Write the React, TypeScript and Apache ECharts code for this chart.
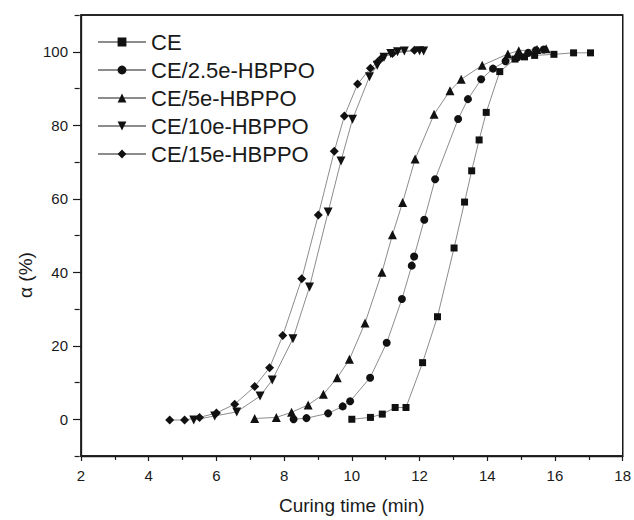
import React, { useEffect, useRef } from "react";
import * as echarts from "echarts";

const xTicks = [2, 4, 6, 8, 10, 12, 14, 16, 18];
const yTicks = [0, 20, 40, 60, 80, 100];

const seriesNames = ["CE", "CE/2.5e-HBPPO", "CE/5e-HBPPO", "CE/10e-HBPPO", "CE/15e-HBPPO"];

const ceData = [
  [10.0, 0], [10.55, 0.5], [10.9, 1.4], [11.28, 3.2], [11.6, 3.2], [12.09, 15.4],
  [12.53, 27.9], [13.02, 46.6], [13.33, 59.1], [13.54, 67.6], [13.76, 76.0],
  [13.97, 83.5], [14.37, 94.6], [14.82, 98.0], [15.1, 98.6], [15.4, 99.0],
  [15.97, 99.3], [16.55, 99.7], [17.05, 99.7],
];
const ce25Data = [
  [8.28, 0], [8.66, 0.3], [9.3, 1.6], [9.73, 3.5], [9.95, 4.9], [10.54, 11.3],
  [11.03, 20.8], [11.48, 32.7], [11.77, 41.8], [11.84, 44.3], [12.14, 54.3],
  [12.46, 65.3], [13.14, 81.7], [13.43, 87.1], [13.82, 92.5], [14.17, 95.4],
  [14.54, 97.4], [14.9, 98.5], [15.21, 99.7], [15.44, 100.4], [15.67, 100.6],
];
const ce5Data = [
  [7.13, 0.2], [7.77, 0.5], [8.22, 1.9], [8.71, 3.9], [9.16, 6.8], [9.57, 11.3],
  [9.93, 16.3], [10.39, 26.2], [10.89, 40.0], [11.2, 50.2], [11.5, 59.0],
  [11.87, 70.8], [12.43, 83.0], [12.9, 89.4], [13.23, 92.5], [13.85, 96.3],
  [14.61, 99.4], [14.93, 100.3], [15.47, 100.6], [15.74, 100.8],
];
const ce10Data = [
  [5.33, -0.2], [5.95, 0.9], [6.6, 2.0], [7.29, 6.3], [7.65, 10.7], [8.26, 21.9],
  [8.75, 36.0], [9.3, 56.4], [9.68, 70.3], [10.02, 81.6], [10.52, 93.2],
  [10.75, 96.3], [10.95, 98.5], [11.15, 99.5], [11.35, 100], [11.55, 100.2],
  [12.0, 100.3], [12.12, 100.2],
];
const ce15Data = [
  [4.62, -0.2], [5.06, -0.2], [5.5, 0.5], [6.0, 1.7], [6.54, 4.1], [7.13, 8.9],
  [7.57, 14.0], [7.96, 22.8], [8.52, 38.2], [9.01, 55.6], [9.48, 72.9],
  [9.78, 82.5], [10.17, 91.2], [10.55, 95.5], [10.76, 97.2], [10.89, 98.4],
  [11.2, 99.5], [11.85, 100.4],
];

const allData = [ceData, ce25Data, ce5Data, ce10Data, ce15Data];
const symbols = ["rect", "circle", "triangle", "triangle", "diamond"];
const symbolRotates = [0, 0, 0, 180, 0];
const symbolSizes = [7, 8, 9, 9, 9];

const X_MIN = 2;
const X_MAX = 18;
const Y_MIN = -10;
const Y_MAX = 110;

const FONT = "'Liberation Sans', Arial, Helvetica, sans-serif";
const INK = "#1a1a1a";

export default function App() {
  const ref = useRef<HTMLDivElement>(null);

  useEffect(() => {
    if (!ref.current) return;
    const chart = echarts.init(ref.current, null, { renderer: "svg" });

    const series = seriesNames.map((name, i) => ({
      name,
      type: "line",
      data: allData[i],
      symbol: symbols[i],
      symbolRotate: symbolRotates[i],
      symbolSize: symbolSizes[i],
      showSymbol: true,
      lineStyle: { color: "#8c8c8c", width: 1 },
      itemStyle: { color: "#111" },
      z: 2,
    }));

    chart.setOption({
      animation: false,
      backgroundColor: "#fff",
      grid: {
        left: 81, right: 10, top: 15, bottom: 63,
        show: true, borderColor: INK, borderWidth: 1.3,
      },
      legend: {
        orient: "vertical",
        left: 97,
        top: 31,
        padding: 0,
        itemWidth: 48,
        itemHeight: 11,
        itemGap: 6,
        data: seriesNames,
        textStyle: { fontSize: 22, color: INK, fontFamily: FONT },
      },
      xAxis: {
        type: "value",
        min: X_MIN,
        max: X_MAX,
        interval: 2,
        name: "Curing time (min)",
        nameLocation: "middle",
        nameGap: 40,
        nameTextStyle: { fontSize: 19, color: INK, fontFamily: FONT },
        axisLine: { show: true, onZero: false, lineStyle: { color: INK, width: 1.3 } },
        axisTick: { show: true, length: 5, lineStyle: { color: INK, width: 1.2 } },
        minorTick: { show: true, splitNumber: 2, length: 4, lineStyle: { color: INK, width: 1.2 } },
        axisLabel: { fontSize: 15, color: INK, margin: 12, fontFamily: FONT, customValues: xTicks },
        splitLine: { show: false },
      },
      yAxis: [
        {
          type: "value",
          min: Y_MIN,
          max: Y_MAX,
          position: "left",
          axisLine: { show: true, onZero: false, lineStyle: { color: INK, width: 1.3 } },
          axisTick: { show: true, length: 8, customValues: yTicks, lineStyle: { color: INK, width: 1.2 } },
          axisLabel: { fontSize: 15, color: INK, margin: 13, fontFamily: FONT, customValues: yTicks },
          splitLine: { show: false },
        },
        {
          // minor ticks (at -10, 10, 30, ... 110), carried by a right axis moved onto the left edge
          type: "value",
          min: Y_MIN,
          max: Y_MAX,
          interval: 20,
          position: "right",
          offset: -543,
          axisLine: { show: false },
          axisTick: { show: true, inside: true, length: 5, lineStyle: { color: INK, width: 1.2 } },
          axisLabel: { show: false },
          splitLine: { show: false },
        },
      ],
      series,
    });

    const tl = chart.convertToPixel({ gridIndex: 0 }, [X_MIN, Y_MAX]) as number[];
    const br = chart.convertToPixel({ gridIndex: 0 }, [X_MAX, Y_MIN]) as number[];
    chart.setOption({
      graphic: [
        {
          type: "rect",
          shape: { x: tl[0], y: tl[1], width: br[0] - tl[0], height: br[1] - tl[1] },
          style: { fill: "none", stroke: INK, lineWidth: 1.3 },
        },
        {
          type: "text",
          x: 25,
          y: 275,
          rotation: Math.PI / 2,
          style: {
            text: "α (%)",
            fontSize: 19,
            fontFamily: FONT,
            fill: INK,
            align: "center",
            verticalAlign: "middle",
          },
        },
      ],
    });

    return () => chart.dispose();
  }, []);

  return (
    <div
      ref={ref}
      style={{ position: "absolute", left: 0, top: 0, width: 634, height: 520 }}
    />
  );
}
